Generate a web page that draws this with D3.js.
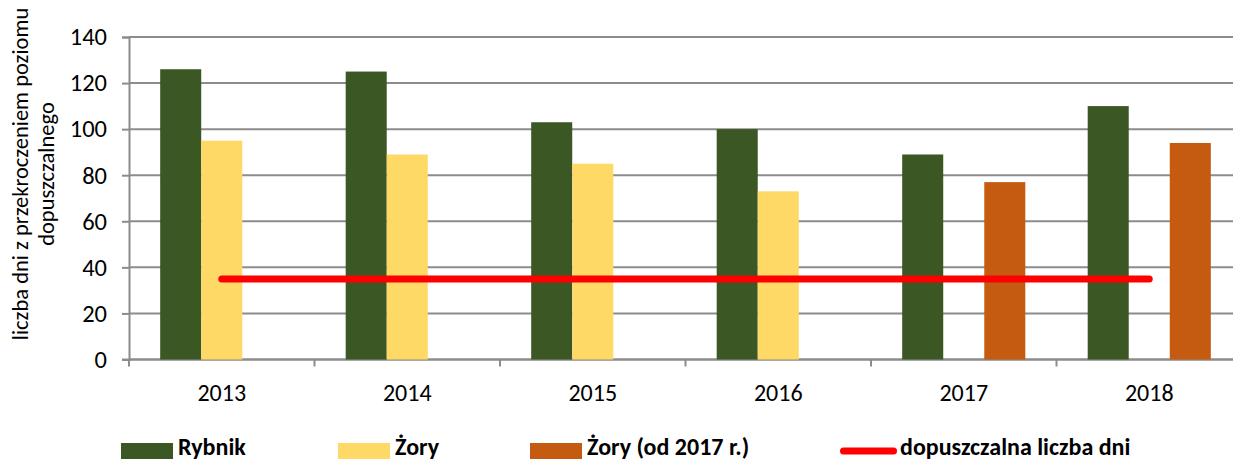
<!DOCTYPE html>
<html>
<head>
<meta charset="utf-8">
<script src="https://cdn.jsdelivr.net/npm/d3@7"></script>
<style>
  body { margin: 0; background: #fff; }
  svg { display: block; }
</style>
</head>
<body>
<div id="chart"></div>
<script>
const WIDTH = 1233;
const HEIGHT = 461;
const FONT = "Carlito, Lato, 'Open Sans', sans-serif";

// data
const years = ["2013", "2014", "2015", "2016", "2017", "2018"];
const rybnik = [126, 125, 103, 100, 89, 110];
const zory = [95, 89, 85, 73, null, null];
const zoryOd2017 = [null, null, null, null, 77, 94];
const limit = [35, 35, 35, 35, 35, 35];
const yTicks = [0, 20, 40, 60, 80, 100, 120, 140];

const seriesNames = ["Rybnik", "Żory", "Żory (od 2017 r.)"];
const seriesValues = [rybnik, zory, zoryOd2017];
const colors = ["#3b5724", "#fed966", "#c55a11"];
const limitName = "dopuszczalna liczba dni";
const limitColor = "#ff0000";

const svg = d3.select("#chart").append("svg")
  .attr("width", WIDTH)
  .attr("height", HEIGHT);

const x0 = d3.scaleBand()
  .domain(years)
  .range([129, 1242])
  .padding(0);

const x1 = d3.scaleBand()
  .domain(seriesNames)
  .range([0, x0.bandwidth()])
  .paddingInner(0)
  .paddingOuter(0.76);

const y = d3.scaleLinear()
  .domain([0, 140])
  .range([359.5, 37]);

// gridlines
svg.append("g")
  .selectAll("line")
  .data(yTicks)
  .join("line")
    .attr("x1", 129)
    .attr("x2", WIDTH)
    .attr("y1", d => y(d))
    .attr("y2", d => y(d))
    .attr("stroke", "#8c8c8c")
    .attr("stroke-width", 2);

// y axis
const yAxis = svg.append("g")
  .attr("transform", "translate(129,0)")
  .call(d3.axisLeft(y).tickValues(yTicks).tickSize(7).tickPadding(15));
yAxis.select(".domain").attr("stroke", "#8c8c8c").attr("stroke-width", 2);
yAxis.selectAll(".tick line").attr("stroke", "#8c8c8c").attr("stroke-width", 2);
yAxis.selectAll("text")
  .attr("font-family", FONT)
  .attr("font-size", 24.5)
  .attr("fill", "#000");

// x axis: ticks on category boundaries
const xAxisG = svg.append("g").attr("transform", `translate(0,${y(0)})`);
xAxisG.append("line")
  .attr("x1", 122).attr("x2", WIDTH)
  .attr("stroke", "#8c8c8c").attr("stroke-width", 2);
xAxisG.selectAll(".bnd")
  .data(years)
  .join("line")
    .attr("class", "bnd")
    .attr("x1", d => x0(d))
    .attr("x2", d => x0(d))
    .attr("y1", 0)
    .attr("y2", 7)
    .attr("stroke", "#8c8c8c").attr("stroke-width", 2);
xAxisG.selectAll("text")
  .data(years)
  .join("text")
    .attr("x", d => x0(d) + x0.bandwidth() / 2)
    .attr("y", 41)
    .attr("text-anchor", "middle")
    .attr("font-family", FONT)
    .attr("font-size", 24)
    .text(d => d);

// bars
seriesNames.forEach((name, si) => {
  svg.append("g")
    .selectAll("rect")
    .data(years.map((yr, i) => ({ yr, v: seriesValues[si][i] })).filter(d => d.v != null))
    .join("rect")
      .attr("x", d => x0(d.yr) + x1(name))
      .attr("width", x1.bandwidth())
      .attr("y", d => y(d.v))
      .attr("height", d => y(0) - y(d.v))
      .attr("fill", colors[si]);
});

// limit line
const line = d3.line()
  .x((d, i) => x0(years[i]) + x0.bandwidth() / 2)
  .y(d => y(d));

svg.append("path")
  .datum(limit)
  .attr("d", line)
  .attr("fill", "none")
  .attr("stroke", limitColor)
  .attr("stroke-width", 7)
  .attr("stroke-linecap", "round");

// y axis title
const yTitle = svg.append("text")
  .attr("transform", "translate(20,174) rotate(-90)")
  .attr("text-anchor", "middle")
  .attr("font-family", FONT)
  .attr("font-size", 22.5);
yTitle.append("tspan").attr("x", 0).attr("dy", "0.35em").text("liczba dni z przekroczeniem poziomu");
yTitle.append("tspan").attr("x", 0).attr("dy", 26).text("dopuszczalnego");

// legend
const legendX = [121, 338, 530];
seriesNames.forEach((name, i) => {
  const g = svg.append("g").attr("transform", `translate(${legendX[i]},0)`);
  g.append("rect")
    .attr("x", 0).attr("y", 443)
    .attr("width", 52).attr("height", 16)
    .attr("fill", colors[i]);
  g.append("text")
    .attr("x", 57).attr("y", 455)
    .attr("font-family", FONT)
    .attr("font-size", 24)
    .attr("font-weight", "bold")
    .text(name);
});
const lg = svg.append("g").attr("transform", "translate(840,0)");
lg.append("line")
  .attr("x1", 3.5).attr("x2", 53.5)
  .attr("y1", 451).attr("y2", 451)
  .attr("stroke", limitColor)
  .attr("stroke-width", 7)
  .attr("stroke-linecap", "round");
lg.append("text")
  .attr("x", 60).attr("y", 455)
  .attr("font-family", FONT)
  .attr("font-size", 24)
  .attr("font-weight", "bold")
  .text(limitName);
</script>
</body>
</html>
